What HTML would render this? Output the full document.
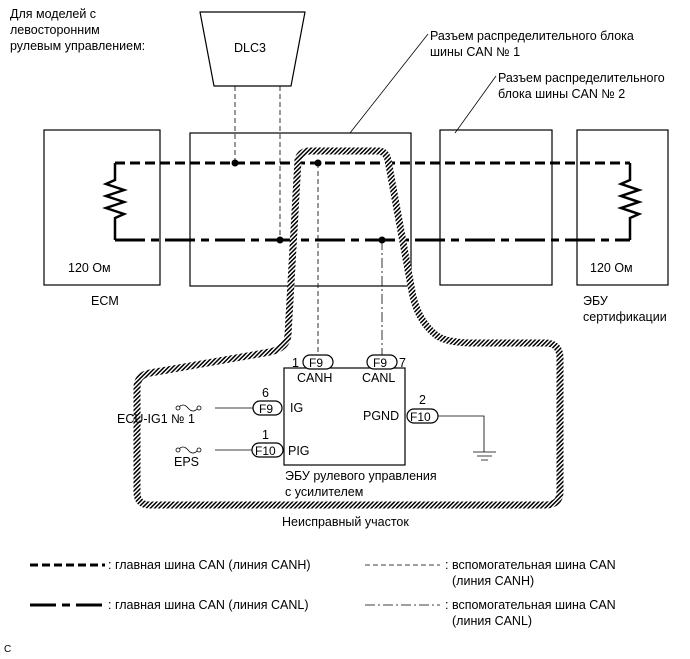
<html><body style="margin:0;background:#fff">
<svg width="690" height="659" viewBox="0 0 690 659" xmlns="http://www.w3.org/2000/svg" font-family="Liberation Sans, sans-serif" font-size="12.5">
<defs>
<pattern id="h" width="3" height="3" patternUnits="userSpaceOnUse" patternTransform="rotate(45)">
<rect width="3" height="3" fill="#fff"/><rect width="1.5" height="3" fill="#000"/></pattern>
</defs>
<rect width="690" height="659" fill="#fff"/>
<text x="10" y="18">Для моделей с</text>
<text x="10" y="34">левосторонним</text>
<text x="10" y="50">рулевым управлением:</text>
<path d="M200 12 H305 L291 86 H214 Z" fill="none" stroke="#000" stroke-width="1.2" stroke-linejoin="round"/>
<text x="234" y="52">DLC3</text>
<text x="430" y="40">Разъем распределительного блока</text>
<text x="430" y="56">шины CAN № 1</text>
<path d="M428 34 L350 133" stroke="#000" fill="none" stroke-width="0.8"/>
<text x="498" y="82">Разъем распределительного</text>
<text x="498" y="98">блока шины CAN № 2</text>
<path d="M496 76 L455 133" stroke="#000" fill="none" stroke-width="0.8"/>
<g fill="none" stroke="#000" stroke-width="1.2">
<rect x="44" y="130" width="116" height="155"/>
<rect x="190" y="133" width="221" height="153"/>
<rect x="440" y="130" width="112" height="155"/>
<rect x="577" y="130" width="91" height="155"/>
</g>
<g fill="none" stroke="#000" stroke-width="0.8">
<path d="M235 86 V163 M280 86 V240" stroke-dasharray="5,3"/>
<path d="M318 163 V356" stroke-dasharray="5,3"/>
<path d="M382 240 V356" stroke-dasharray="10,3,2,3"/>
</g>
<path d="M115 163 H630" stroke="#000" stroke-width="3" stroke-dasharray="10,5" fill="none"/>
<path d="M115 240 H630" stroke="#000" stroke-width="3" stroke-dasharray="30,6,8,6" fill="none"/>
<g fill="none" stroke="#000" stroke-width="2.5">
<path d="M115 163 V180 L106 184 L124 190 L106 196 L124 202 L106 208 L124 214 L115 218 V240"/>
<path d="M630 163 V180 L621 184 L639 190 L621 196 L639 202 L621 208 L639 214 L630 218 V240"/>
</g>
<g fill="#000"><circle cx="235" cy="163" r="3.5"/><circle cx="318" cy="163" r="3.5"/><circle cx="280" cy="240" r="3.5"/><circle cx="382" cy="240" r="3.5"/></g>
<path d="M298 160 Q300 151 310 151 H378 Q386 151 388 160 L411 286 Q416 320 436 335 Q444 342 470 343 H545 Q560 343 560 358 V492 Q560 505 545 505 H150 Q137 505 137 492 V388 Q137 375 150 373 L270 352 Q287 348 288 335 Z" fill="none" stroke="url(#h)" stroke-width="7"/>
<text x="68" y="272">120 Ом</text>
<text x="590" y="272">120 Ом</text>
<text x="91" y="305">ECM</text>
<text x="583" y="305">ЭБУ</text>
<text x="583" y="321">сертификации</text>
<rect x="284" y="368" width="121" height="97" fill="none" stroke="#000" stroke-width="1.2"/>
<g fill="#fff" stroke="#000" stroke-width="1.2">
<rect x="303" y="355" width="30" height="14" rx="7"/>
<rect x="367" y="355" width="30" height="14" rx="7"/>
<rect x="253" y="401" width="29" height="14" rx="7"/>
<rect x="252" y="443" width="31" height="14" rx="7"/>
<rect x="407" y="409" width="31" height="14" rx="7"/>
</g>
<g font-size="12">
<text x="309" y="367">F9</text><text x="373" y="367">F9</text>
<text x="259" y="413">F9</text><text x="255" y="455">F10</text><text x="410" y="421">F10</text>
</g>
<text x="292" y="367">1</text><text x="399" y="367">7</text>
<text x="297" y="382">CANH</text><text x="362" y="382">CANL</text>
<text x="262" y="397">6</text><text x="290" y="412">IG</text>
<text x="262" y="439">1</text><text x="288" y="455">PIG</text>
<text x="363" y="420">PGND</text><text x="419" y="404">2</text>
<text x="285" y="480">ЭБУ рулевого управления</text>
<text x="285" y="496">с усилителем</text>
<text x="282" y="526">Неисправный участок</text>
<g fill="none" stroke="#000" stroke-width="0.8">
<path d="M215 408 H253 M215 450 H252 M438 416 H484 V452 M473 452 H496 M477 456 H492 M481 460 H488"/>
<path d="M178 408 Q183 402 188 408 Q193 414 198 408 M178 450 Q183 444 188 450 Q193 456 198 450"/>
<circle cx="178" cy="408" r="2" fill="#fff"/><circle cx="199" cy="408" r="2" fill="#fff"/>
<circle cx="178" cy="450" r="2" fill="#fff"/><circle cx="199" cy="450" r="2" fill="#fff"/>
</g>
<text x="117" y="423">ECU-IG1 № 1</text>
<text x="174" y="466">EPS</text>
<path d="M30 565 H105" stroke="#000" stroke-width="3" stroke-dasharray="8,4"/>
<text x="108" y="569">: главная шина CAN (линия CANH)</text>
<path d="M30 605 H105" stroke="#000" stroke-width="3" stroke-dasharray="26,6,8,6"/>
<text x="108" y="609">: главная шина CAN (линия CANL)</text>
<path d="M365 565 H440" stroke="#000" stroke-width="0.8" stroke-dasharray="5,3"/>
<text x="445" y="569">: вспомогательная шина CAN</text>
<text x="452" y="585">(линия CANH)</text>
<path d="M365 605 H440" stroke="#000" stroke-width="0.8" stroke-dasharray="10,3,2,3"/>
<text x="445" y="609">: вспомогательная шина CAN</text>
<text x="452" y="625">(линия CANL)</text>
<text x="4" y="652" font-size="10">C</text>
</svg>
</body></html>
